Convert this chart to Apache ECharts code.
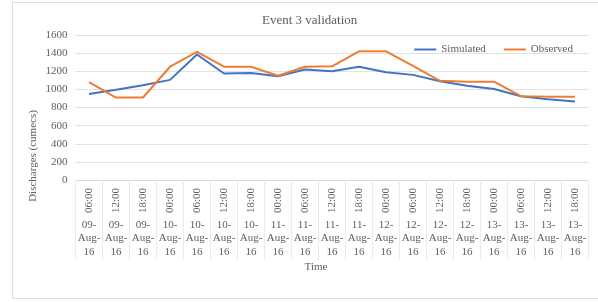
<!DOCTYPE html>
<html style="height: 100%">
<head>
	<meta charset="utf-8">
</head>
<body style="height: 100%; margin: 0">
<div id="container" style="width: 598px; height: 302px"></div>
<script type="text/javascript" src="https://cdn.jsdelivr.net/npm/echarts@6/dist/echarts.min.js"></script>
<script type="text/javascript">
	var times = ['06:00','12:00','18:00','00:00','06:00','12:00','18:00','00:00','06:00','12:00',
		'18:00','00:00','06:00','12:00','18:00','00:00','06:00','12:00','18:00'];
	var dates = ['09-Aug-16','09-Aug-16','09-Aug-16','10-Aug-16','10-Aug-16','10-Aug-16','10-Aug-16',
		'11-Aug-16','11-Aug-16','11-Aug-16','11-Aug-16','12-Aug-16','12-Aug-16','12-Aug-16','12-Aug-16',
		'13-Aug-16','13-Aug-16','13-Aug-16','13-Aug-16'];
	var simulated = [950, 995, 1045, 1105, 1385, 1175, 1180, 1145, 1220, 1200,
		1250, 1190, 1160, 1090, 1040, 1005, 925, 890, 865];
	var observed = [1080, 910, 910, 1250, 1415, 1250, 1250, 1150, 1250, 1255,
		1420, 1420, 1260, 1095, 1085, 1085, 925, 920, 920];

	var font = 'Liberation Serif';
	var grey = '#606060';

	var dom = document.getElementById("container");
	var myChart = echarts.init(dom);
	var option = {
		animation: false,
		textStyle: {fontFamily: font},
		title: {
			text: 'Event 3 validation',
			left: 257,
			top: 9,
			textStyle: {fontFamily: font, fontSize: 13, fontWeight: 'normal', color: grey}
		},
		legend: {
			right: 20,
			top: 39,
			icon: 'rect',
			itemWidth: 22,
			itemHeight: 2,
			itemGap: 18,
			textStyle: {fontFamily: font, fontSize: 11, color: grey},
			data: ['Simulated', 'Observed']
		},
		grid: {left: 75.5, right: 9.5, top: 35, bottom: 122},
		xAxis: [
			{
				type: 'category',
				data: times,
				boundaryGap: true,
				axisLine: {lineStyle: {color: '#D9D9D9'}},
				axisTick: {show: true, length: 80, lineStyle: {color: '#EBEBEB'}},
				axisLabel: {rotate: 90, margin: 8, interval: 0, fontFamily: font, fontSize: 11, color: grey}
			},
			{
				type: 'category',
				data: dates,
				position: 'bottom',
				offset: 30,
				boundaryGap: true,
				axisLine: {show: false},
				axisTick: {show: false},
				axisLabel: {
					interval: 0, margin: 8, fontFamily: font, fontSize: 11, color: grey,
					lineHeight: 13.5, verticalAlign: 'top',
					formatter: function (v) { return v.replace(/-/g, '-\n'); }
				}
			}
		],
		yAxis: {
			type: 'value',
			min: 0,
			max: 1600,
			interval: 200,
			axisLine: {show: false},
			axisTick: {show: false},
			splitLine: {lineStyle: {color: '#E2E2E2'}},
			axisLabel: {
				margin: 8, fontFamily: font, fontSize: 11, color: grey,
				formatter: function (v) { return String(v); }
			}
		},
		graphic: [
			{
				type: 'rect',
				shape: {x: 12.5, y: 2.5, width: 600, height: 296},
				style: {fill: 'none', stroke: '#DDDDDD', lineWidth: 1},
				silent: true
			},
			{
				type: 'text',
				x: 33,
				y: 156,
				rotation: Math.PI / 2,
				style: {text: 'Discharges (cumecs)', font: '11px "Liberation Serif"', fill: grey,
					align: 'center', verticalAlign: 'middle'}
			},
			{
				type: 'text',
				x: 316,
				y: 267,
				style: {text: 'Time', font: '11px "Liberation Serif"', fill: grey,
					align: 'center', verticalAlign: 'middle'}
			}
		],
		series: [
			{
				name: 'Simulated',
				type: 'line',
				data: simulated,
				showSymbol: false,
				symbol: 'none',
				lineStyle: {width: 2, color: '#4472C4'},
				itemStyle: {color: '#4472C4'}
			},
			{
				name: 'Observed',
				type: 'line',
				data: observed,
				showSymbol: false,
				symbol: 'none',
				lineStyle: {width: 2, color: '#ED7D31'},
				itemStyle: {color: '#ED7D31'}
			}
		]
	};
	myChart.setOption(option);
</script>
</body>
</html>
